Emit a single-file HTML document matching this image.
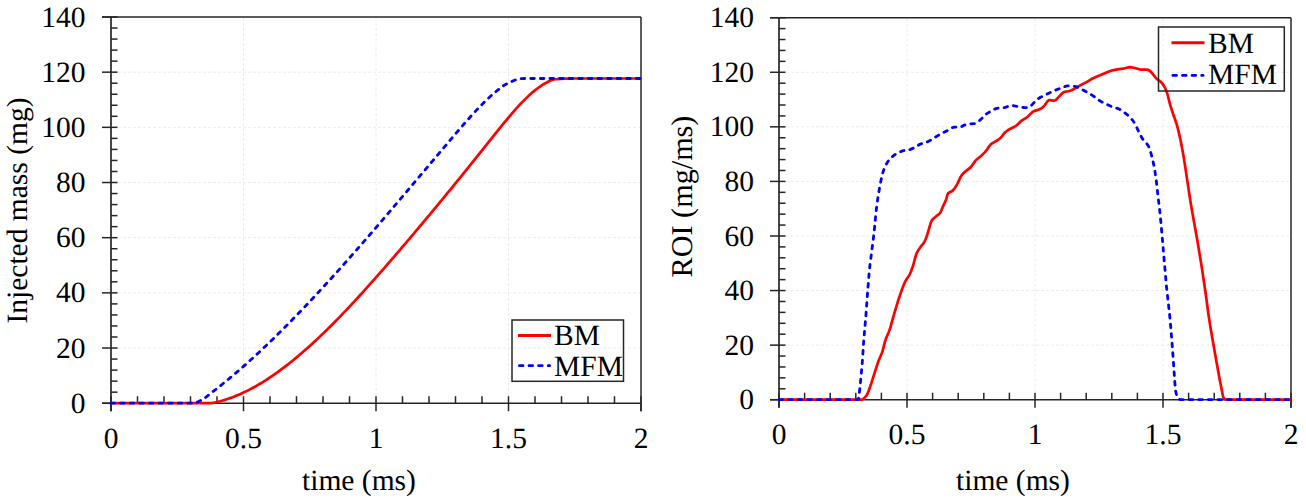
<!DOCTYPE html>
<html><head><meta charset="utf-8"><style>
html,body{margin:0;padding:0;background:#fff;}
body{width:1306px;height:502px;overflow:hidden;}
svg{display:block;}
text{font-family:'Liberation Serif',serif;fill:#000;text-rendering:geometricPrecision;}
</style></head><body>
<svg width="1306" height="502" viewBox="0 0 1306 502">
<rect width="1306" height="502" fill="#fff"/>
<line x1="113" y1="348.03" x2="641" y2="348.03" stroke="#ececec" stroke-width="1" stroke-dasharray="3,2"/>
<line x1="113" y1="292.86" x2="641" y2="292.86" stroke="#ececec" stroke-width="1" stroke-dasharray="3,2"/>
<line x1="113" y1="237.69" x2="641" y2="237.69" stroke="#ececec" stroke-width="1" stroke-dasharray="3,2"/>
<line x1="113" y1="182.51" x2="641" y2="182.51" stroke="#ececec" stroke-width="1" stroke-dasharray="3,2"/>
<line x1="113" y1="127.34" x2="641" y2="127.34" stroke="#ececec" stroke-width="1" stroke-dasharray="3,2"/>
<line x1="113" y1="72.17" x2="641" y2="72.17" stroke="#ececec" stroke-width="1" stroke-dasharray="3,2"/>
<line x1="243.50" y1="18" x2="243.50" y2="402.2" stroke="#ececec" stroke-width="1" stroke-dasharray="3,2"/>
<line x1="376.00" y1="18" x2="376.00" y2="402.2" stroke="#ececec" stroke-width="1" stroke-dasharray="3,2"/>
<line x1="508.50" y1="18" x2="508.50" y2="402.2" stroke="#ececec" stroke-width="1" stroke-dasharray="3,2"/>
<line x1="102" y1="17.00" x2="641" y2="17.00" stroke="#262626" stroke-width="1.5"/>
<line x1="641.00" y1="17.00" x2="641.00" y2="411.2" stroke="#262626" stroke-width="1.5"/>
<line x1="111.00" y1="17.00" x2="111.00" y2="411.2" stroke="#262626" stroke-width="1.7"/>
<line x1="102" y1="403.20" x2="641" y2="403.20" stroke="#262626" stroke-width="1.5"/>
<line x1="102" y1="403.20" x2="117.5" y2="403.20" stroke="#262626" stroke-width="1.5"/>
<line x1="111" y1="392.17" x2="117.5" y2="392.17" stroke="#262626" stroke-width="1.5"/>
<line x1="111" y1="381.13" x2="117.5" y2="381.13" stroke="#262626" stroke-width="1.5"/>
<line x1="111" y1="370.10" x2="117.5" y2="370.10" stroke="#262626" stroke-width="1.5"/>
<line x1="111" y1="359.06" x2="117.5" y2="359.06" stroke="#262626" stroke-width="1.5"/>
<line x1="102" y1="348.03" x2="117.5" y2="348.03" stroke="#262626" stroke-width="1.5"/>
<line x1="111" y1="336.99" x2="117.5" y2="336.99" stroke="#262626" stroke-width="1.5"/>
<line x1="111" y1="325.96" x2="117.5" y2="325.96" stroke="#262626" stroke-width="1.5"/>
<line x1="111" y1="314.93" x2="117.5" y2="314.93" stroke="#262626" stroke-width="1.5"/>
<line x1="111" y1="303.89" x2="117.5" y2="303.89" stroke="#262626" stroke-width="1.5"/>
<line x1="102" y1="292.86" x2="117.5" y2="292.86" stroke="#262626" stroke-width="1.5"/>
<line x1="111" y1="281.82" x2="117.5" y2="281.82" stroke="#262626" stroke-width="1.5"/>
<line x1="111" y1="270.79" x2="117.5" y2="270.79" stroke="#262626" stroke-width="1.5"/>
<line x1="111" y1="259.75" x2="117.5" y2="259.75" stroke="#262626" stroke-width="1.5"/>
<line x1="111" y1="248.72" x2="117.5" y2="248.72" stroke="#262626" stroke-width="1.5"/>
<line x1="102" y1="237.69" x2="117.5" y2="237.69" stroke="#262626" stroke-width="1.5"/>
<line x1="111" y1="226.65" x2="117.5" y2="226.65" stroke="#262626" stroke-width="1.5"/>
<line x1="111" y1="215.62" x2="117.5" y2="215.62" stroke="#262626" stroke-width="1.5"/>
<line x1="111" y1="204.58" x2="117.5" y2="204.58" stroke="#262626" stroke-width="1.5"/>
<line x1="111" y1="193.55" x2="117.5" y2="193.55" stroke="#262626" stroke-width="1.5"/>
<line x1="102" y1="182.51" x2="117.5" y2="182.51" stroke="#262626" stroke-width="1.5"/>
<line x1="111" y1="171.48" x2="117.5" y2="171.48" stroke="#262626" stroke-width="1.5"/>
<line x1="111" y1="160.45" x2="117.5" y2="160.45" stroke="#262626" stroke-width="1.5"/>
<line x1="111" y1="149.41" x2="117.5" y2="149.41" stroke="#262626" stroke-width="1.5"/>
<line x1="111" y1="138.38" x2="117.5" y2="138.38" stroke="#262626" stroke-width="1.5"/>
<line x1="102" y1="127.34" x2="117.5" y2="127.34" stroke="#262626" stroke-width="1.5"/>
<line x1="111" y1="116.31" x2="117.5" y2="116.31" stroke="#262626" stroke-width="1.5"/>
<line x1="111" y1="105.27" x2="117.5" y2="105.27" stroke="#262626" stroke-width="1.5"/>
<line x1="111" y1="94.24" x2="117.5" y2="94.24" stroke="#262626" stroke-width="1.5"/>
<line x1="111" y1="83.21" x2="117.5" y2="83.21" stroke="#262626" stroke-width="1.5"/>
<line x1="102" y1="72.17" x2="117.5" y2="72.17" stroke="#262626" stroke-width="1.5"/>
<line x1="111" y1="61.14" x2="117.5" y2="61.14" stroke="#262626" stroke-width="1.5"/>
<line x1="111" y1="50.10" x2="117.5" y2="50.10" stroke="#262626" stroke-width="1.5"/>
<line x1="111" y1="39.07" x2="117.5" y2="39.07" stroke="#262626" stroke-width="1.5"/>
<line x1="111" y1="28.03" x2="117.5" y2="28.03" stroke="#262626" stroke-width="1.5"/>
<line x1="102" y1="17.00" x2="117.5" y2="17.00" stroke="#262626" stroke-width="1.5"/>
<line x1="111.00" y1="396.2" x2="111.00" y2="411.2" stroke="#262626" stroke-width="1.5"/>
<line x1="137.50" y1="396.2" x2="137.50" y2="403.2" stroke="#262626" stroke-width="1.5"/>
<line x1="164.00" y1="396.2" x2="164.00" y2="403.2" stroke="#262626" stroke-width="1.5"/>
<line x1="190.50" y1="396.2" x2="190.50" y2="403.2" stroke="#262626" stroke-width="1.5"/>
<line x1="217.00" y1="396.2" x2="217.00" y2="403.2" stroke="#262626" stroke-width="1.5"/>
<line x1="243.50" y1="396.2" x2="243.50" y2="411.2" stroke="#262626" stroke-width="1.5"/>
<line x1="270.00" y1="396.2" x2="270.00" y2="403.2" stroke="#262626" stroke-width="1.5"/>
<line x1="296.50" y1="396.2" x2="296.50" y2="403.2" stroke="#262626" stroke-width="1.5"/>
<line x1="323.00" y1="396.2" x2="323.00" y2="403.2" stroke="#262626" stroke-width="1.5"/>
<line x1="349.50" y1="396.2" x2="349.50" y2="403.2" stroke="#262626" stroke-width="1.5"/>
<line x1="376.00" y1="396.2" x2="376.00" y2="411.2" stroke="#262626" stroke-width="1.5"/>
<line x1="402.50" y1="396.2" x2="402.50" y2="403.2" stroke="#262626" stroke-width="1.5"/>
<line x1="429.00" y1="396.2" x2="429.00" y2="403.2" stroke="#262626" stroke-width="1.5"/>
<line x1="455.50" y1="396.2" x2="455.50" y2="403.2" stroke="#262626" stroke-width="1.5"/>
<line x1="482.00" y1="396.2" x2="482.00" y2="403.2" stroke="#262626" stroke-width="1.5"/>
<line x1="508.50" y1="396.2" x2="508.50" y2="411.2" stroke="#262626" stroke-width="1.5"/>
<line x1="535.00" y1="396.2" x2="535.00" y2="403.2" stroke="#262626" stroke-width="1.5"/>
<line x1="561.50" y1="396.2" x2="561.50" y2="403.2" stroke="#262626" stroke-width="1.5"/>
<line x1="588.00" y1="396.2" x2="588.00" y2="403.2" stroke="#262626" stroke-width="1.5"/>
<line x1="614.50" y1="396.2" x2="614.50" y2="403.2" stroke="#262626" stroke-width="1.5"/>
<line x1="641.00" y1="396.2" x2="641.00" y2="411.2" stroke="#262626" stroke-width="1.5"/>
<text x="85.5" y="412.80" text-anchor="end" font-size="29.5">0</text>
<text x="85.5" y="357.63" text-anchor="end" font-size="29.5">20</text>
<text x="85.5" y="302.46" text-anchor="end" font-size="29.5">40</text>
<text x="85.5" y="247.29" text-anchor="end" font-size="29.5">60</text>
<text x="85.5" y="192.11" text-anchor="end" font-size="29.5">80</text>
<text x="85.5" y="136.94" text-anchor="end" font-size="29.5">100</text>
<text x="85.5" y="81.77" text-anchor="end" font-size="29.5">120</text>
<text x="85.5" y="26.60" text-anchor="end" font-size="29.5">140</text>
<text x="111.00" y="448.30" text-anchor="middle" font-size="29.5">0</text>
<text x="243.50" y="448.30" text-anchor="middle" font-size="29.5">0.5</text>
<text x="376.00" y="448.30" text-anchor="middle" font-size="29.5">1</text>
<text x="508.50" y="448.30" text-anchor="middle" font-size="29.5">1.5</text>
<text x="641.00" y="448.30" text-anchor="middle" font-size="29.5">2</text>
<text x="302" y="490.4" font-size="29.5">time (ms)</text>
<text transform="translate(27,210.5) rotate(-90)" x="0" y="0" text-anchor="middle" font-size="29.5">Injected mass (mg)</text>
<path d="M111.00,403.20 L170.00,403.20 L172.00,403.20 L174.00,403.20 L176.00,403.20 L178.00,403.20 L180.00,403.20 L182.00,403.20 L184.00,403.20 L186.00,403.20 L188.00,403.20 L190.00,403.20 L192.00,403.20 L194.00,403.20 L196.00,403.20 L198.00,403.20 L200.00,403.20 L202.00,403.20 L204.00,403.20 L206.00,403.20 L208.00,403.20 L210.00,403.20 L212.00,403.06 L214.00,402.70 L216.00,402.23 L218.00,401.76 L220.00,401.27 L222.00,400.72 L224.00,400.11 L226.00,399.48 L228.00,398.83 L230.00,398.13 L232.00,397.40 L234.00,396.64 L236.00,395.84 L238.00,395.01 L240.00,394.14 L242.00,393.25 L244.00,392.32 L246.00,391.35 L248.00,390.36 L250.00,389.33 L252.00,388.28 L254.00,387.19 L256.00,386.07 L258.00,384.92 L260.00,383.75 L262.00,382.54 L264.00,381.30 L266.00,380.04 L268.00,378.75 L270.00,377.43 L272.00,376.08 L274.00,374.70 L276.00,373.30 L278.00,371.88 L280.00,370.42 L282.00,368.94 L284.00,367.44 L286.00,365.91 L288.00,364.35 L290.00,362.78 L292.00,361.18 L294.00,359.55 L296.00,357.90 L298.00,356.23 L300.00,354.54 L302.00,352.83 L304.00,351.09 L306.00,349.34 L308.00,347.56 L310.00,345.76 L312.00,343.94 L314.00,342.10 L316.00,340.25 L318.00,338.37 L320.00,336.48 L322.00,334.57 L324.00,332.64 L326.00,330.69 L328.00,328.72 L330.00,326.74 L332.00,324.75 L334.00,322.73 L336.00,320.70 L338.00,318.66 L340.00,316.60 L342.00,314.53 L344.00,312.44 L346.00,310.34 L348.00,308.23 L350.00,306.10 L352.00,303.96 L354.00,301.81 L356.00,299.64 L358.00,297.47 L360.00,295.28 L362.00,293.08 L364.00,290.88 L366.00,288.66 L368.00,286.43 L370.00,284.20 L372.00,281.95 L374.00,279.70 L376.00,277.44 L378.00,275.17 L380.00,272.89 L382.00,270.61 L384.00,268.32 L386.00,266.02 L388.00,263.72 L390.00,261.41 L392.00,259.10 L394.00,256.78 L396.00,254.46 L398.00,252.13 L400.00,249.79 L402.00,247.46 L404.00,245.11 L406.00,242.77 L408.00,240.42 L410.00,238.06 L412.00,235.70 L414.00,233.33 L416.00,230.96 L418.00,228.59 L420.00,226.21 L422.00,223.83 L424.00,221.44 L426.00,219.05 L428.00,216.65 L430.00,214.25 L432.00,211.84 L434.00,209.44 L436.00,207.02 L438.00,204.60 L440.00,202.18 L442.00,199.76 L444.00,197.33 L446.00,194.90 L448.00,192.46 L450.00,190.02 L452.00,187.57 L454.00,185.12 L456.00,182.67 L458.00,180.21 L460.00,177.75 L462.00,175.29 L464.00,172.82 L466.00,170.35 L468.00,167.88 L470.00,165.40 L472.00,162.92 L474.00,160.43 L476.00,157.94 L478.00,155.45 L480.00,152.96 L482.00,150.46 L484.00,147.96 L486.00,145.45 L488.00,142.94 L490.00,140.44 L492.00,137.92 L494.00,135.40 L496.00,132.89 L498.00,130.39 L500.00,127.91 L502.00,125.43 L504.00,122.97 L506.00,120.54 L508.00,118.14 L510.00,115.76 L512.00,113.41 L514.00,111.12 L516.00,108.87 L518.00,106.65 L520.00,104.48 L522.00,102.39 L524.00,100.35 L526.00,98.36 L528.00,96.43 L530.00,94.60 L532.00,92.84 L534.00,91.13 L536.00,89.51 L538.00,88.01 L540.00,86.58 L542.00,85.23 L544.00,83.97 L546.00,82.86 L548.00,81.78 L550.00,80.72 L552.00,79.87 L554.00,79.41 L556.00,79.22 L558.00,79.05 L560.00,78.91 L562.00,78.78 L564.00,78.68 L566.00,78.60 L568.00,78.55 L570.00,78.51 L572.00,78.50 L574.00,78.50 L576.00,78.50 L578.00,78.50 L580.00,78.50 L582.00,78.50 L584.00,78.50 L586.00,78.50 L588.00,78.50 L590.00,78.50 L592.00,78.50 L594.00,78.50 L596.00,78.50 L598.00,78.50 L641.00,78.50" fill="none" stroke="#ff0000" stroke-width="2.7" stroke-linejoin="round"/>
<path d="M111.00,403.20 L170.00,403.20 L172.00,403.20 L174.00,403.20 L176.00,403.20 L178.00,403.20 L180.00,403.20 L182.00,403.20 L184.00,403.20 L186.00,403.20 L188.00,403.20 L190.00,403.20 L192.00,403.20 L194.00,403.00 L196.00,402.47 L198.00,401.71 L200.00,400.80 L202.00,399.86 L204.00,398.68 L206.00,397.17 L208.00,395.51 L210.00,393.89 L212.00,392.36 L214.00,390.82 L216.00,389.26 L218.00,387.68 L220.00,386.09 L222.00,384.49 L224.00,382.87 L226.00,381.23 L228.00,379.58 L230.00,377.92 L232.00,376.24 L234.00,374.55 L236.00,372.84 L238.00,371.12 L240.00,369.39 L242.00,367.64 L244.00,365.89 L246.00,364.11 L248.00,362.33 L250.00,360.53 L252.00,358.72 L254.00,356.89 L256.00,355.06 L258.00,353.21 L260.00,351.35 L262.00,349.47 L264.00,347.59 L266.00,345.69 L268.00,343.78 L270.00,341.86 L272.00,339.93 L274.00,337.99 L276.00,336.04 L278.00,334.07 L280.00,332.10 L282.00,330.12 L284.00,328.12 L286.00,326.11 L288.00,324.10 L290.00,322.07 L292.00,320.04 L294.00,317.99 L296.00,315.94 L298.00,313.87 L300.00,311.80 L302.00,309.71 L304.00,307.62 L306.00,305.52 L308.00,303.41 L310.00,301.30 L312.00,299.17 L314.00,297.03 L316.00,294.89 L318.00,292.74 L320.00,290.58 L322.00,288.42 L324.00,286.24 L326.00,284.06 L328.00,281.87 L330.00,279.68 L332.00,277.47 L334.00,275.26 L336.00,273.05 L338.00,270.83 L340.00,268.60 L342.00,266.36 L344.00,264.12 L346.00,261.87 L348.00,259.62 L350.00,257.36 L352.00,255.10 L354.00,252.83 L356.00,250.55 L358.00,248.27 L360.00,245.99 L362.00,243.70 L364.00,241.40 L366.00,239.10 L368.00,236.80 L370.00,234.49 L372.00,232.18 L374.00,229.86 L376.00,227.54 L378.00,225.22 L380.00,222.89 L382.00,220.56 L384.00,218.23 L386.00,215.89 L388.00,213.55 L390.00,211.21 L392.00,208.87 L394.00,206.52 L396.00,204.17 L398.00,201.82 L400.00,199.46 L402.00,197.11 L404.00,194.75 L406.00,192.39 L408.00,190.03 L410.00,187.67 L412.00,185.30 L414.00,182.94 L416.00,180.57 L418.00,178.21 L420.00,175.84 L422.00,173.48 L424.00,171.11 L426.00,168.74 L428.00,166.37 L430.00,164.01 L432.00,161.64 L434.00,159.27 L436.00,156.91 L438.00,154.54 L440.00,152.18 L442.00,149.82 L444.00,147.45 L446.00,145.09 L448.00,142.73 L450.00,140.38 L452.00,138.02 L454.00,135.66 L456.00,133.31 L458.00,130.97 L460.00,128.64 L462.00,126.31 L464.00,124.01 L466.00,121.72 L468.00,119.46 L470.00,117.21 L472.00,114.99 L474.00,112.81 L476.00,110.66 L478.00,108.53 L480.00,106.45 L482.00,104.41 L484.00,102.42 L486.00,100.47 L488.00,98.57 L490.00,96.73 L492.00,94.95 L494.00,93.21 L496.00,91.54 L498.00,89.94 L500.00,88.35 L502.00,86.79 L504.00,85.37 L506.00,84.23 L508.00,83.26 L510.00,82.31 L512.00,81.39 L514.00,80.54 L516.00,79.80 L518.00,79.20 L520.00,78.76 L522.00,78.53 L524.00,78.50 L526.00,78.50 L528.00,78.50 L530.00,78.50 L532.00,78.50 L534.00,78.50 L536.00,78.50 L538.00,78.50 L540.00,78.50 L542.00,78.50 L544.00,78.50 L546.00,78.50 L548.00,78.50 L550.00,78.50 L552.00,78.50 L554.00,78.50 L556.00,78.50 L558.00,78.50 L641.00,78.50" fill="none" stroke="#0000ff" stroke-width="2.8" stroke-dasharray="3.6,6" stroke-linecap="round" stroke-linejoin="round"/>
<rect x="512" y="320" width="111.5" height="61.30000000000001" fill="none" stroke="#262626" stroke-width="1.5"/>
<line x1="518" y1="335.5" x2="551" y2="335.5" stroke="#ff0000" stroke-width="3"/>
<line x1="519.4" y1="365.7" x2="549.6" y2="365.7" stroke="#0000ff" stroke-width="2.8" stroke-dasharray="3.6,6" stroke-linecap="round"/>
<text x="554" y="344.8" font-size="29.5">BM</text>
<text x="554" y="375.7" font-size="29.5">MFM</text>
<line x1="781" y1="345.13" x2="1291" y2="345.13" stroke="#ececec" stroke-width="1" stroke-dasharray="3,2"/>
<line x1="781" y1="290.56" x2="1291" y2="290.56" stroke="#ececec" stroke-width="1" stroke-dasharray="3,2"/>
<line x1="781" y1="235.99" x2="1291" y2="235.99" stroke="#ececec" stroke-width="1" stroke-dasharray="3,2"/>
<line x1="781" y1="181.41" x2="1291" y2="181.41" stroke="#ececec" stroke-width="1" stroke-dasharray="3,2"/>
<line x1="781" y1="126.84" x2="1291" y2="126.84" stroke="#ececec" stroke-width="1" stroke-dasharray="3,2"/>
<line x1="781" y1="72.27" x2="1291" y2="72.27" stroke="#ececec" stroke-width="1" stroke-dasharray="3,2"/>
<line x1="907.00" y1="18.7" x2="907.00" y2="398.7" stroke="#ececec" stroke-width="1" stroke-dasharray="3,2"/>
<line x1="1035.00" y1="18.7" x2="1035.00" y2="398.7" stroke="#ececec" stroke-width="1" stroke-dasharray="3,2"/>
<line x1="1163.00" y1="18.7" x2="1163.00" y2="398.7" stroke="#ececec" stroke-width="1" stroke-dasharray="3,2"/>
<line x1="770" y1="17.70" x2="1291" y2="17.70" stroke="#262626" stroke-width="1.5"/>
<line x1="1291.00" y1="17.70" x2="1291.00" y2="407.7" stroke="#262626" stroke-width="1.5"/>
<line x1="779.00" y1="17.70" x2="779.00" y2="407.7" stroke="#262626" stroke-width="1.7"/>
<line x1="770" y1="399.70" x2="1291" y2="399.70" stroke="#262626" stroke-width="1.5"/>
<line x1="770" y1="399.70" x2="785.5" y2="399.70" stroke="#262626" stroke-width="1.5"/>
<line x1="779" y1="388.79" x2="785.5" y2="388.79" stroke="#262626" stroke-width="1.5"/>
<line x1="779" y1="377.87" x2="785.5" y2="377.87" stroke="#262626" stroke-width="1.5"/>
<line x1="779" y1="366.96" x2="785.5" y2="366.96" stroke="#262626" stroke-width="1.5"/>
<line x1="779" y1="356.04" x2="785.5" y2="356.04" stroke="#262626" stroke-width="1.5"/>
<line x1="770" y1="345.13" x2="785.5" y2="345.13" stroke="#262626" stroke-width="1.5"/>
<line x1="779" y1="334.21" x2="785.5" y2="334.21" stroke="#262626" stroke-width="1.5"/>
<line x1="779" y1="323.30" x2="785.5" y2="323.30" stroke="#262626" stroke-width="1.5"/>
<line x1="779" y1="312.39" x2="785.5" y2="312.39" stroke="#262626" stroke-width="1.5"/>
<line x1="779" y1="301.47" x2="785.5" y2="301.47" stroke="#262626" stroke-width="1.5"/>
<line x1="770" y1="290.56" x2="785.5" y2="290.56" stroke="#262626" stroke-width="1.5"/>
<line x1="779" y1="279.64" x2="785.5" y2="279.64" stroke="#262626" stroke-width="1.5"/>
<line x1="779" y1="268.73" x2="785.5" y2="268.73" stroke="#262626" stroke-width="1.5"/>
<line x1="779" y1="257.81" x2="785.5" y2="257.81" stroke="#262626" stroke-width="1.5"/>
<line x1="779" y1="246.90" x2="785.5" y2="246.90" stroke="#262626" stroke-width="1.5"/>
<line x1="770" y1="235.99" x2="785.5" y2="235.99" stroke="#262626" stroke-width="1.5"/>
<line x1="779" y1="225.07" x2="785.5" y2="225.07" stroke="#262626" stroke-width="1.5"/>
<line x1="779" y1="214.16" x2="785.5" y2="214.16" stroke="#262626" stroke-width="1.5"/>
<line x1="779" y1="203.24" x2="785.5" y2="203.24" stroke="#262626" stroke-width="1.5"/>
<line x1="779" y1="192.33" x2="785.5" y2="192.33" stroke="#262626" stroke-width="1.5"/>
<line x1="770" y1="181.41" x2="785.5" y2="181.41" stroke="#262626" stroke-width="1.5"/>
<line x1="779" y1="170.50" x2="785.5" y2="170.50" stroke="#262626" stroke-width="1.5"/>
<line x1="779" y1="159.59" x2="785.5" y2="159.59" stroke="#262626" stroke-width="1.5"/>
<line x1="779" y1="148.67" x2="785.5" y2="148.67" stroke="#262626" stroke-width="1.5"/>
<line x1="779" y1="137.76" x2="785.5" y2="137.76" stroke="#262626" stroke-width="1.5"/>
<line x1="770" y1="126.84" x2="785.5" y2="126.84" stroke="#262626" stroke-width="1.5"/>
<line x1="779" y1="115.93" x2="785.5" y2="115.93" stroke="#262626" stroke-width="1.5"/>
<line x1="779" y1="105.01" x2="785.5" y2="105.01" stroke="#262626" stroke-width="1.5"/>
<line x1="779" y1="94.10" x2="785.5" y2="94.10" stroke="#262626" stroke-width="1.5"/>
<line x1="779" y1="83.19" x2="785.5" y2="83.19" stroke="#262626" stroke-width="1.5"/>
<line x1="770" y1="72.27" x2="785.5" y2="72.27" stroke="#262626" stroke-width="1.5"/>
<line x1="779" y1="61.36" x2="785.5" y2="61.36" stroke="#262626" stroke-width="1.5"/>
<line x1="779" y1="50.44" x2="785.5" y2="50.44" stroke="#262626" stroke-width="1.5"/>
<line x1="779" y1="39.53" x2="785.5" y2="39.53" stroke="#262626" stroke-width="1.5"/>
<line x1="779" y1="28.61" x2="785.5" y2="28.61" stroke="#262626" stroke-width="1.5"/>
<line x1="770" y1="17.70" x2="785.5" y2="17.70" stroke="#262626" stroke-width="1.5"/>
<line x1="779.00" y1="392.7" x2="779.00" y2="407.7" stroke="#262626" stroke-width="1.5"/>
<line x1="804.60" y1="392.7" x2="804.60" y2="399.7" stroke="#262626" stroke-width="1.5"/>
<line x1="830.20" y1="392.7" x2="830.20" y2="399.7" stroke="#262626" stroke-width="1.5"/>
<line x1="855.80" y1="392.7" x2="855.80" y2="399.7" stroke="#262626" stroke-width="1.5"/>
<line x1="881.40" y1="392.7" x2="881.40" y2="399.7" stroke="#262626" stroke-width="1.5"/>
<line x1="907.00" y1="392.7" x2="907.00" y2="407.7" stroke="#262626" stroke-width="1.5"/>
<line x1="932.60" y1="392.7" x2="932.60" y2="399.7" stroke="#262626" stroke-width="1.5"/>
<line x1="958.20" y1="392.7" x2="958.20" y2="399.7" stroke="#262626" stroke-width="1.5"/>
<line x1="983.80" y1="392.7" x2="983.80" y2="399.7" stroke="#262626" stroke-width="1.5"/>
<line x1="1009.40" y1="392.7" x2="1009.40" y2="399.7" stroke="#262626" stroke-width="1.5"/>
<line x1="1035.00" y1="392.7" x2="1035.00" y2="407.7" stroke="#262626" stroke-width="1.5"/>
<line x1="1060.60" y1="392.7" x2="1060.60" y2="399.7" stroke="#262626" stroke-width="1.5"/>
<line x1="1086.20" y1="392.7" x2="1086.20" y2="399.7" stroke="#262626" stroke-width="1.5"/>
<line x1="1111.80" y1="392.7" x2="1111.80" y2="399.7" stroke="#262626" stroke-width="1.5"/>
<line x1="1137.40" y1="392.7" x2="1137.40" y2="399.7" stroke="#262626" stroke-width="1.5"/>
<line x1="1163.00" y1="392.7" x2="1163.00" y2="407.7" stroke="#262626" stroke-width="1.5"/>
<line x1="1188.60" y1="392.7" x2="1188.60" y2="399.7" stroke="#262626" stroke-width="1.5"/>
<line x1="1214.20" y1="392.7" x2="1214.20" y2="399.7" stroke="#262626" stroke-width="1.5"/>
<line x1="1239.80" y1="392.7" x2="1239.80" y2="399.7" stroke="#262626" stroke-width="1.5"/>
<line x1="1265.40" y1="392.7" x2="1265.40" y2="399.7" stroke="#262626" stroke-width="1.5"/>
<line x1="1291.00" y1="392.7" x2="1291.00" y2="407.7" stroke="#262626" stroke-width="1.5"/>
<text x="754" y="409.30" text-anchor="end" font-size="29.5">0</text>
<text x="754" y="354.73" text-anchor="end" font-size="29.5">20</text>
<text x="754" y="300.16" text-anchor="end" font-size="29.5">40</text>
<text x="754" y="245.59" text-anchor="end" font-size="29.5">60</text>
<text x="754" y="191.01" text-anchor="end" font-size="29.5">80</text>
<text x="754" y="136.44" text-anchor="end" font-size="29.5">100</text>
<text x="754" y="81.87" text-anchor="end" font-size="29.5">120</text>
<text x="754" y="27.30" text-anchor="end" font-size="29.5">140</text>
<text x="779.00" y="444.30" text-anchor="middle" font-size="29.5">0</text>
<text x="907.00" y="444.30" text-anchor="middle" font-size="29.5">0.5</text>
<text x="1035.00" y="444.30" text-anchor="middle" font-size="29.5">1</text>
<text x="1163.00" y="444.30" text-anchor="middle" font-size="29.5">1.5</text>
<text x="1291.00" y="444.30" text-anchor="middle" font-size="29.5">2</text>
<text x="956" y="489.6" font-size="29.5">time (ms)</text>
<text transform="translate(691.5,196.5) rotate(-90)" x="0" y="0" text-anchor="middle" font-size="30.2">ROI (mg/ms)</text>
<path d="M779.00,399.60 L861.50,399.60 L862.50,399.38 L864.00,398.36 L866.50,395.57 L867.50,393.75 L868.50,391.22 L871.00,384.08 L877.50,363.79 L879.00,359.79 L882.00,352.69 L883.00,349.39 L885.00,341.63 L886.00,338.44 L889.00,331.58 L890.00,328.81 L894.00,314.40 L898.00,301.23 L900.50,293.60 L903.00,286.79 L905.00,281.99 L906.50,279.29 L909.00,275.73 L910.00,273.79 L911.00,271.46 L913.00,266.00 L915.50,256.70 L916.50,253.70 L917.50,251.62 L918.50,249.89 L920.50,246.95 L923.50,243.31 L924.50,241.61 L925.50,239.53 L927.00,235.56 L930.50,223.62 L931.50,220.95 L932.50,219.53 L933.50,218.51 L936.00,216.43 L938.50,214.68 L940.00,213.14 L941.00,211.26 L943.00,206.30 L946.00,200.00 L947.50,194.73 L948.00,193.53 L948.50,193.01 L949.50,192.33 L952.00,191.16 L953.00,190.34 L954.00,189.16 L955.50,186.95 L957.50,183.61 L960.50,177.16 L962.00,174.86 L963.50,173.24 L965.00,171.87 L970.50,167.40 L971.50,166.22 L975.50,160.62 L977.00,159.18 L981.00,155.98 L984.50,152.61 L986.00,150.94 L989.50,145.87 L991.00,144.20 L992.50,143.17 L997.50,140.26 L999.50,138.88 L1001.00,137.47 L1004.00,133.45 L1005.50,132.00 L1007.50,130.51 L1010.00,128.95 L1014.50,126.69 L1016.00,125.80 L1017.50,124.57 L1022.00,120.35 L1026.50,117.52 L1028.00,116.42 L1031.50,112.91 L1033.00,111.62 L1034.50,110.86 L1038.00,109.88 L1039.50,109.33 L1041.00,108.55 L1043.00,107.20 L1044.50,105.55 L1047.00,101.92 L1048.00,100.79 L1048.50,100.40 L1049.00,100.16 L1049.50,100.10 L1053.50,100.55 L1055.00,100.51 L1055.50,100.25 L1056.50,99.39 L1058.50,97.09 L1062.00,93.51 L1063.50,92.27 L1065.00,91.72 L1069.50,90.97 L1071.50,90.25 L1075.50,88.22 L1081.00,84.85 L1087.50,81.66 L1091.50,79.04 L1093.00,78.20 L1100.00,75.36 L1109.50,71.21 L1111.00,70.70 L1113.50,70.11 L1117.50,69.41 L1123.00,68.68 L1127.50,67.47 L1129.50,67.20 L1131.50,67.35 L1135.00,68.02 L1140.00,69.54 L1147.00,69.61 L1148.50,70.10 L1150.00,71.00 L1151.00,71.87 L1155.50,77.45 L1157.00,79.12 L1160.50,81.53 L1162.00,83.09 L1163.50,85.18 L1165.00,87.83 L1167.00,92.81 L1168.00,96.20 L1169.50,102.46 L1170.50,105.93 L1173.00,113.70 L1175.50,120.64 L1177.00,125.35 L1178.50,131.09 L1180.50,140.03 L1182.00,147.63 L1183.50,156.12 L1185.00,165.37 L1190.50,201.80 L1192.50,213.62 L1197.50,241.29 L1201.50,265.56 L1205.50,292.32 L1208.50,314.77 L1210.50,327.59 L1215.00,353.58 L1219.50,378.40 L1222.50,393.71 L1223.00,396.04 L1223.50,397.70 L1224.00,398.38 L1225.00,399.13 L1226.00,399.54 L1226.50,399.60 L1291.00,399.60" fill="none" stroke="#ff0000" stroke-width="2.7" stroke-linejoin="round"/>
<path d="M779.00,399.60 L857.00,399.60 L858.00,399.46 L858.50,398.71 L859.00,395.57 L860.00,387.17 L862.00,365.93 L862.50,359.68 L863.50,343.47 L866.00,314.40 L867.50,293.36 L869.00,274.52 L870.00,264.84 L874.00,233.38 L876.00,212.39 L877.00,203.97 L878.00,197.08 L879.50,188.06 L881.50,177.78 L882.50,173.70 L884.00,169.14 L885.50,165.70 L887.50,162.16 L888.50,160.72 L890.00,158.95 L892.00,156.94 L894.00,155.25 L896.00,153.89 L898.00,152.82 L901.00,151.45 L903.50,150.62 L905.50,150.23 L908.50,149.92 L910.50,149.38 L915.00,147.30 L919.00,144.81 L920.50,144.04 L926.00,142.41 L928.00,141.60 L931.50,139.66 L939.00,134.86 L947.50,130.55 L951.00,128.36 L952.50,127.59 L954.00,127.21 L960.00,127.18 L961.50,126.64 L964.00,125.19 L967.00,124.24 L969.00,123.90 L974.50,123.68 L975.50,123.36 L978.00,121.83 L979.50,120.64 L982.00,118.17 L984.50,115.24 L985.50,114.40 L989.50,112.06 L992.50,110.12 L994.00,109.34 L996.00,108.60 L998.00,108.08 L1005.00,107.47 L1006.00,107.19 L1008.50,106.14 L1010.00,105.80 L1014.00,105.75 L1019.00,106.91 L1024.00,107.51 L1026.50,107.59 L1028.50,107.16 L1030.00,106.60 L1031.00,105.92 L1033.50,103.10 L1037.00,99.75 L1038.50,98.51 L1040.50,97.28 L1051.50,91.93 L1056.00,89.90 L1066.00,86.22 L1067.00,85.93 L1068.00,85.80 L1071.00,85.94 L1075.00,86.47 L1076.50,86.90 L1078.50,87.74 L1083.50,90.23 L1092.00,95.16 L1094.50,96.78 L1098.50,99.93 L1101.50,101.73 L1107.50,104.73 L1111.00,106.32 L1113.00,107.07 L1117.50,108.36 L1119.00,108.97 L1121.50,110.43 L1125.50,113.32 L1128.00,115.37 L1130.00,117.28 L1132.00,119.53 L1133.50,121.52 L1135.50,124.83 L1139.00,132.34 L1142.00,138.03 L1143.50,140.28 L1146.50,143.43 L1147.50,144.65 L1148.50,146.27 L1149.50,148.65 L1151.00,153.45 L1152.50,159.03 L1154.00,165.95 L1155.00,171.61 L1156.50,182.60 L1158.00,196.25 L1159.50,208.39 L1161.00,223.41 L1166.50,286.87 L1169.50,313.58 L1170.50,324.00 L1172.50,349.00 L1175.00,385.00 L1175.50,390.28 L1176.50,394.94 L1177.00,396.54 L1177.50,397.66 L1178.00,398.29 L1179.00,399.08 L1180.00,399.54 L1180.50,399.60 L1291.00,399.60" fill="none" stroke="#0000ff" stroke-width="2.8" stroke-dasharray="3.6,6" stroke-linecap="round" stroke-linejoin="round"/>
<rect x="1158.5" y="27" width="125.79999999999995" height="64" fill="none" stroke="#262626" stroke-width="1.5"/>
<line x1="1171.5" y1="42.8" x2="1204.5" y2="42.8" stroke="#ff0000" stroke-width="3"/>
<line x1="1172.9" y1="75.4" x2="1203.1" y2="75.4" stroke="#0000ff" stroke-width="2.8" stroke-dasharray="3.6,6" stroke-linecap="round"/>
<text x="1208" y="53" font-size="29.5">BM</text>
<text x="1208" y="84.4" font-size="29.5">MFM</text>
</svg>
</body></html>
